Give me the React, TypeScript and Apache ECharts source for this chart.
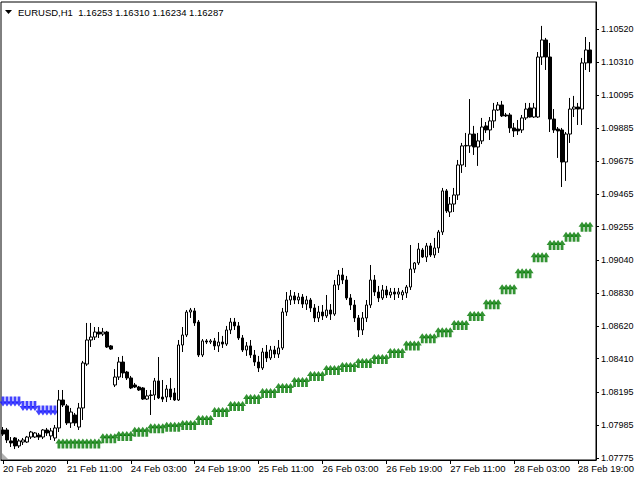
import React, { useEffect, useRef } from "react";
import * as echarts from "echarts";

const xTickLabels = ["20 Feb 2020", "21 Feb 11:00", "24 Feb 03:00", "24 Feb 19:00", "25 Feb 11:00", "26 Feb 03:00", "26 Feb 19:00", "27 Feb 11:00", "28 Feb 03:00", "28 Feb 19:00"];
const yTickLabels = [1.1052, 1.1031, 1.10095, 1.09885, 1.09675, 1.09465, 1.09255, 1.0904, 1.0883, 1.0862, 1.0841, 1.08195, 1.07985, 1.07775];
const titleText = "EURUSD,H1  1.16253 1.16310 1.16234 1.16287";

const opens = [
  1.07954, 1.07954, 1.07884, 1.07903, 1.07852, 1.07877, 1.07877, 1.07909, 1.07909, 1.07922,
  1.07909, 1.07954, 1.07916, 1.07903, 1.07967, 1.08146, 1.08108, 1.07999, 1.08050, 1.07973,
  1.08095, 1.08376, 1.08530, 1.08549, 1.08581, 1.08568, 1.08581, 1.08492, 1.08242, 1.08293,
  1.08389, 1.08325, 1.08287, 1.08242, 1.08229, 1.08223, 1.08152, 1.08178, 1.08178, 1.08268,
  1.08165, 1.08165, 1.08216, 1.08191, 1.08146, 1.08498, 1.08562, 1.08709, 1.08716, 1.08645,
  1.08434, 1.08524, 1.08517, 1.08524, 1.08492, 1.08517, 1.08504, 1.08594, 1.08645, 1.08620,
  1.08543, 1.08466, 1.08492, 1.08434, 1.08389, 1.08351, 1.08453, 1.08415, 1.08466, 1.08440,
  1.08479, 1.08709, 1.08786, 1.08812, 1.08786, 1.08805, 1.08760, 1.08786, 1.08735, 1.08671,
  1.08709, 1.08684, 1.08722, 1.08696, 1.08882, 1.08946, 1.08914, 1.08799, 1.08754, 1.08671,
  1.08594, 1.08671, 1.08754, 1.08914, 1.08837, 1.08799, 1.08850, 1.08818, 1.08837, 1.08824,
  1.08818, 1.08831, 1.08869, 1.08984, 1.09023, 1.09106, 1.09061, 1.09132, 1.09074, 1.09119,
  1.09221, 1.09484, 1.09349, 1.09400, 1.09458, 1.09650, 1.09772, 1.09772, 1.09848, 1.09765,
  1.09804, 1.09900, 1.09874, 1.09932, 1.10002, 1.10034, 1.09970, 1.09970, 1.09887, 1.09880,
  1.09874, 1.09951, 1.10015, 1.09957, 1.09957, 1.10341, 1.10450, 1.10341, 1.09944, 1.09880,
  1.09874, 1.09669, 1.09848, 1.10008, 1.10021, 1.10008, 1.10303, 1.10386,
];
const closes = [
  1.07928, 1.07890, 1.07871, 1.07852, 1.07884, 1.07890, 1.07909, 1.07941, 1.07935, 1.07909,
  1.07954, 1.07935, 1.07948, 1.07967, 1.08146, 1.08114, 1.07999, 1.08069, 1.07999, 1.08095,
  1.08383, 1.08530, 1.08549, 1.08581, 1.08568, 1.08581, 1.08485, 1.08472, 1.08293, 1.08389,
  1.08319, 1.08287, 1.08223, 1.08229, 1.08210, 1.08152, 1.08172, 1.08175, 1.08268, 1.08159,
  1.08152, 1.08216, 1.08165, 1.08146, 1.08498, 1.08562, 1.08709, 1.08722, 1.08639, 1.08434,
  1.08524, 1.08517, 1.08524, 1.08492, 1.08517, 1.08504, 1.08594, 1.08645, 1.08620, 1.08543,
  1.08466, 1.08492, 1.08434, 1.08389, 1.08351, 1.08453, 1.08415, 1.08466, 1.08440, 1.08479,
  1.08709, 1.08786, 1.08812, 1.08786, 1.08805, 1.08760, 1.08786, 1.08735, 1.08671, 1.08709,
  1.08684, 1.08722, 1.08696, 1.08882, 1.08946, 1.08914, 1.08799, 1.08754, 1.08671, 1.08594,
  1.08671, 1.08754, 1.08914, 1.08837, 1.08799, 1.08850, 1.08818, 1.08837, 1.08824, 1.08837,
  1.08837, 1.08869, 1.08984, 1.09023, 1.09112, 1.09061, 1.09132, 1.09074, 1.09119, 1.09221,
  1.09484, 1.09356, 1.09400, 1.09458, 1.09650, 1.09772, 1.09775, 1.09848, 1.09765, 1.09804,
  1.09893, 1.09874, 1.09932, 1.10002, 1.10034, 1.09964, 1.09964, 1.09887, 1.09868, 1.09868,
  1.09951, 1.10008, 1.09957, 1.10015, 1.10341, 1.10450, 1.10341, 1.09944, 1.09874, 1.09868,
  1.09669, 1.09848, 1.10008, 1.10021, 1.10008, 1.10303, 1.10386, 1.10303,
];
const lows = [
  1.07916, 1.07871, 1.07845, 1.07832, 1.07839, 1.07858, 1.07871, 1.07896, 1.07903, 1.07890,
  1.07896, 1.07916, 1.07890, 1.07884, 1.07941, 1.08101, 1.07986, 1.07967, 1.07980, 1.07954,
  1.08018, 1.08364, 1.08485, 1.08530, 1.08543, 1.08556, 1.08479, 1.08466, 1.08229, 1.08274,
  1.08287, 1.08274, 1.08216, 1.08223, 1.08204, 1.08146, 1.08146, 1.08050, 1.08146, 1.08152,
  1.08133, 1.08133, 1.08146, 1.08140, 1.08140, 1.08453, 1.08549, 1.08671, 1.08620, 1.08421,
  1.08421, 1.08504, 1.08504, 1.08466, 1.08453, 1.08479, 1.08492, 1.08568, 1.08594, 1.08530,
  1.08453, 1.08428, 1.08415, 1.08364, 1.08325, 1.08338, 1.08389, 1.08402, 1.08415, 1.08415,
  1.08466, 1.08684, 1.08754, 1.08760, 1.08760, 1.08735, 1.08722, 1.08709, 1.08645, 1.08645,
  1.08658, 1.08671, 1.08658, 1.08684, 1.08850, 1.08888, 1.08786, 1.08722, 1.08645, 1.08549,
  1.08562, 1.08645, 1.08735, 1.08812, 1.08773, 1.08786, 1.08799, 1.08799, 1.08786, 1.08799,
  1.08786, 1.08799, 1.08850, 1.08959, 1.09010, 1.09055, 1.09029, 1.09061, 1.09055, 1.09087,
  1.09202, 1.09343, 1.09317, 1.09349, 1.09426, 1.09599, 1.09637, 1.09727, 1.09714, 1.09644,
  1.09784, 1.09855, 1.09810, 1.09887, 1.09996, 1.09957, 1.09957, 1.09855, 1.09829, 1.09842,
  1.09855, 1.09938, 1.09954, 1.09951, 1.09951, 1.10290, 1.10258, 1.09861, 1.09855, 1.09695,
  1.09509, 1.09548, 1.09791, 1.09957, 1.09906, 1.09906, 1.10258, 1.10245,
];
const highs = [
  1.07973, 1.07967, 1.07909, 1.07909, 1.07896, 1.07903, 1.07916, 1.07948, 1.07941, 1.07935,
  1.07960, 1.07967, 1.07967, 1.07986, 1.08210, 1.08210, 1.08120, 1.08095, 1.08063, 1.08127,
  1.08396, 1.08639, 1.08639, 1.08613, 1.08613, 1.08607, 1.08588, 1.08498, 1.08344, 1.08421,
  1.08428, 1.08332, 1.08300, 1.08255, 1.08236, 1.08229, 1.08210, 1.08210, 1.08287, 1.08421,
  1.08274, 1.08242, 1.08287, 1.08223, 1.08530, 1.08613, 1.08722, 1.08735, 1.08735, 1.08658,
  1.08536, 1.08536, 1.08536, 1.08543, 1.08581, 1.08556, 1.08620, 1.08671, 1.08671, 1.08645,
  1.08562, 1.08517, 1.08530, 1.08466, 1.08428, 1.08479, 1.08498, 1.08492, 1.08492, 1.08530,
  1.08735, 1.08837, 1.08850, 1.08837, 1.08831, 1.08824, 1.08812, 1.08799, 1.08760, 1.08748,
  1.08754, 1.08818, 1.08760, 1.08914, 1.08978, 1.08991, 1.08940, 1.08824, 1.08786, 1.08690,
  1.08709, 1.08786, 1.09010, 1.08946, 1.08876, 1.08882, 1.08876, 1.08863, 1.08863, 1.08863,
  1.08850, 1.08882, 1.09138, 1.09029, 1.09151, 1.09119, 1.09151, 1.09151, 1.09183, 1.09234,
  1.09503, 1.09496, 1.09445, 1.09503, 1.09682, 1.09791, 1.09855, 1.10072, 1.09900, 1.09855,
  1.09951, 1.09925, 1.09957, 1.10047, 1.10053, 1.10060, 1.09983, 1.09983, 1.09919, 1.09938,
  1.09970, 1.10047, 1.10047, 1.10047, 1.10373, 1.10540, 1.10463, 1.10431, 1.10008, 1.09893,
  1.09887, 1.09861, 1.10079, 1.10092, 1.10047, 1.10335, 1.10469, 1.10437,
];

// trailing stop (down arrows) per bar, bars 0..13
const blueStops = [
  1.08168, 1.08168, 1.08168, 1.08168, 1.08168, 1.08140, 1.08140, 1.08140, 1.08140,
  1.08111, 1.08111, 1.08111, 1.08111, 1.08111,
];
// trailing stop (up arrows), one level per 4-bar block starting at bar 13; shown from bar 14
const greenGroupStart = 13;
const greenFirstBar = 14;
const greenStops = [
  1.07900, 1.07900, 1.07900, 1.07933, 1.07948, 1.07975, 1.07997, 1.08007, 1.08018, 1.08050,
  1.08101, 1.08140, 1.08184, 1.08223, 1.08255, 1.08293, 1.08332, 1.08370, 1.08389, 1.08415,
  1.08440, 1.08479, 1.08526, 1.08573, 1.08611, 1.08658, 1.08716, 1.08791, 1.08887, 1.08989,
  1.09091, 1.09170, 1.09223, 1.09287,
];

const FONT = "'Liberation Sans', Arial, sans-serif";
const UP_ARROW = "path://M0,6 L5,0 L10,6 L7,6 L7,12 L3,12 L3,6 Z";
const DOWN_ARROW = "path://M3,0 L7,0 L7,6 L10,6 L5,12 L0,6 L3,6 Z";

export default function App() {
  const ref = useRef<HTMLDivElement>(null);
  useEffect(() => {
    if (!ref.current) return;
    const chart = echarts.init(ref.current, null, { renderer: "svg" });
    const n = opens.length;
    const cats = Array.from({ length: n + 1 }, (_, i) => String(i));
    const candles = opens.map((o, i) => [o, closes[i], lows[i], highs[i]]);
    const blue = cats.map((_, i) => (i < blueStops.length ? blueStops[i] : "-"));
    const green = cats.map((_, i) => {
      if (i < greenFirstBar || i >= n) return "-";
      const g = Math.floor((i - greenGroupStart) / 4);
      return greenStops[g] ?? "-";
    });

    chart.setOption({
      animation: false,
      backgroundColor: "#ffffff",
      grid: {
        left: 1,
        top: 2,
        width: 595,
        height: 458,
        show: true,
        borderColor: "#000",
        borderWidth: 1,
        backgroundColor: "#ffffff",
      },
      xAxis: {
        type: "category",
        data: cats,
        boundaryGap: true,
        axisLine: { show: true, lineStyle: { color: "#000", width: 1 } },
        axisTick: { show: true, alignWithLabel: true, interval: 15, length: 4, lineStyle: { color: "#000" } },
        axisLabel: {
          interval: 15,
          align: "left",
          margin: 3,
          fontSize: 9.5,
          color: "#000",
          fontFamily: FONT,
          formatter: (_v: string, i: number) => xTickLabels[i / 16] ?? "",
        },
        splitLine: { show: false },
      },
      yAxis: {
        type: "value",
        position: "right",
        min: 1.07762,
        max: 1.10693,
        axisLine: { show: true, lineStyle: { color: "#000", width: 1 } },
        axisTick: { show: true, length: 3, customValues: yTickLabels, lineStyle: { color: "#000" } },
        axisLabel: {
          customValues: yTickLabels,
          formatter: (v: number) => v.toFixed(5),
          margin: 5,
          fontSize: 9,
          color: "#000",
          fontFamily: FONT,
        },
        splitLine: { show: false },
      },
      graphic: [
        { type: "polygon", shape: { points: [[5, 10], [12, 10], [8.5, 14]] }, style: { fill: "#000" } },
        {
          type: "text",
          left: 18,
          top: 7,
          style: { text: titleText, font: `9.5px ${FONT}`, fill: "#000" },
        },
        { type: "polygon", shape: { points: [[2, 453], [2, 459], [8, 459]] }, style: { fill: "#b0b0b0" } },
      ],
      series: [
        {
          type: "scatter",
          data: blue,
          symbol: DOWN_ARROW,
          symbolSize: [7, 10],
          symbolOffset: [0, "50%"],
          itemStyle: { color: "#1414ff" },
          z: 2,
        },
        {
          type: "scatter",
          data: green,
          symbol: UP_ARROW,
          symbolSize: [7, 10],
          symbolOffset: [0, "50%"],
          itemStyle: { color: "#007800" },
          z: 2,
        },
        {
          type: "candlestick",
          data: candles,
          barWidth: 3,
          itemStyle: {
            color: "#ffffff",
            color0: "#000000",
            borderColor: "#000000",
            borderColor0: "#000000",
            borderWidth: 1,
          },
          z: 3,
        },
      ],
    });
    return () => chart.dispose();
  }, []);
  return <div ref={ref} style={{ position: "fixed", left: 0, top: 0, width: 640, height: 480 }} />;
}
